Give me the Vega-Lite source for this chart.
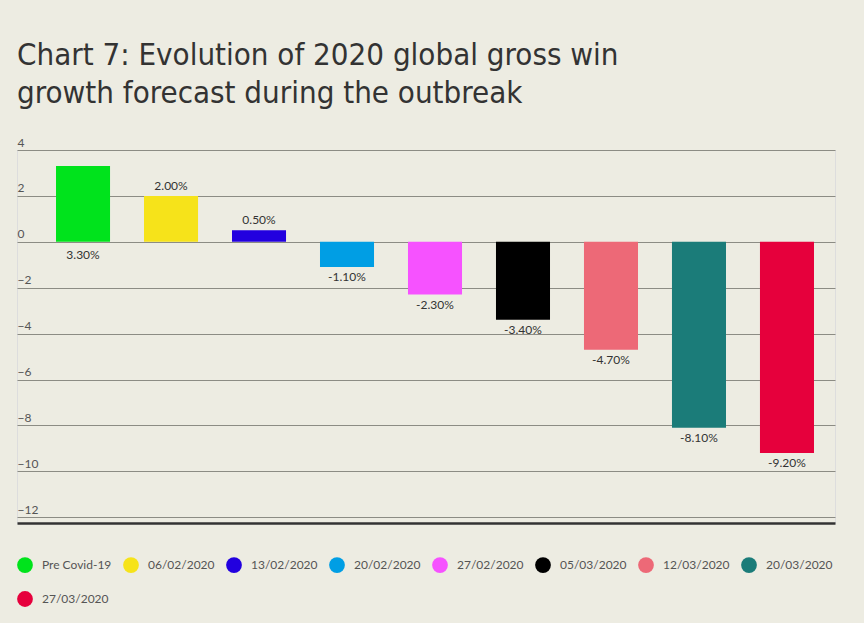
{
  "$schema": "https://vega.github.io/schema/vega-lite/v6.json",
  "width": 818,
  "height": 373,
  "autosize": {"type": "none"},
  "padding": {"left": 17, "top": 150, "right": 29, "bottom": 100},
  "background": "#EDECE2",
  "title": {
    "text": ["Chart 7: Evolution of 2020 global gross win", "growth forecast during the outbreak"],
    "anchor": "start",
    "frame": "group",
    "offset": 2,
    "baseline": "alphabetic",
    "font": "DejaVu Sans Condensed, sans-serif",
    "fontSize": 31,
    "fontWeight": "normal",
    "lineHeight": 38,
    "color": "#333333"
  },
  "data": {
    "values": [
      {"period": "Pre Covid-19", "value": 3.3, "label": "3.30%"},
      {"period": "06/02/2020", "value": 2.0, "label": "2.00%"},
      {"period": "13/02/2020", "value": 0.5, "label": "0.50%"},
      {"period": "20/02/2020", "value": -1.1, "label": "-1.10%"},
      {"period": "27/02/2020", "value": -2.3, "label": "-2.30%"},
      {"period": "05/03/2020", "value": -3.4, "label": "-3.40%"},
      {"period": "12/03/2020", "value": -4.7, "label": "-4.70%"},
      {"period": "20/03/2020", "value": -8.1, "label": "-8.10%"},
      {"period": "27/03/2020", "value": -9.2, "label": "-9.20%"}
    ]
  },
  "encoding": {
    "x": {
      "field": "period",
      "type": "nominal",
      "sort": null,
      "scale": {"paddingInner": 0.386, "paddingOuter": 0.341, "align": 0.65},
      "axis": {
        "title": null,
        "labels": false,
        "ticks": false,
        "domain": true,
        "domainColor": "#333333",
        "domainWidth": 2.5
      }
    },
    "y": {
      "field": "value",
      "type": "quantitative",
      "scale": {"domain": [-12.25, 4], "nice": false, "zero": true},
      "axis": {
        "title": null,
        "values": [4, 2, 0, -2, -4, -6, -8, -10, -12],
        "grid": true,
        "gridColor": "#8C8C84",
        "gridWidth": 1,
        "domain": false,
        "ticks": false,
        "tickSize": 0,
        "labelPadding": 0,
        "labelAlign": "left",
        "labelBaseline": "alphabetic",
        "labelOffset": -4,
        "labelFlush": false,
        "labelOverlap": false,
        "labelFont": "Lato",
        "labelFontSize": 12,
        "labelColor": "#555555"
      }
    }
  },
  "layer": [
    {
      "mark": {"type": "bar"},
      "encoding": {
        "color": {
          "field": "period",
          "type": "nominal",
          "sort": null,
          "scale": {
            "domain": ["Pre Covid-19", "06/02/2020", "13/02/2020", "20/02/2020", "27/02/2020", "05/03/2020", "12/03/2020", "20/03/2020", "27/03/2020"],
            "range": ["#00E31C", "#F6E31A", "#2200DF", "#009EE4", "#F652FF", "#000000", "#ED6977", "#1B7C79", "#E6003C"]
          },
          "legend": {
            "title": null,
            "orient": "bottom",
            "direction": "horizontal",
            "columns": 8,
            "symbolType": "circle",
            "symbolSize": 250,
            "symbolStrokeWidth": 0,
            "symbolOpacity": 1,
            "labelFont": "Lato",
            "labelFontSize": 12,
            "labelColor": "#555555",
            "labelOffset": 9,
            "columnPadding": 11,
            "rowPadding": 18,
            "offset": 34
          }
        }
      }
    },
    {
      "transform": [{"filter": "datum.value > 0 && datum.value < 3"}],
      "mark": {"type": "text", "baseline": "bottom", "dy": -3, "font": "Lato", "fontSize": 12, "color": "#333333"},
      "encoding": {"text": {"field": "label"}}
    },
    {
      "transform": [{"filter": "datum.value >= 3"}],
      "mark": {"type": "text", "baseline": "top", "dy": 8, "font": "Lato", "fontSize": 12, "color": "#333333"},
      "encoding": {"y": {"datum": 0}, "text": {"field": "label"}}
    },
    {
      "transform": [{"filter": "datum.value < 0"}],
      "mark": {"type": "text", "baseline": "top", "dy": 5, "font": "Lato", "fontSize": 12, "color": "#333333"},
      "encoding": {"text": {"field": "label"}}
    }
  ]
}
